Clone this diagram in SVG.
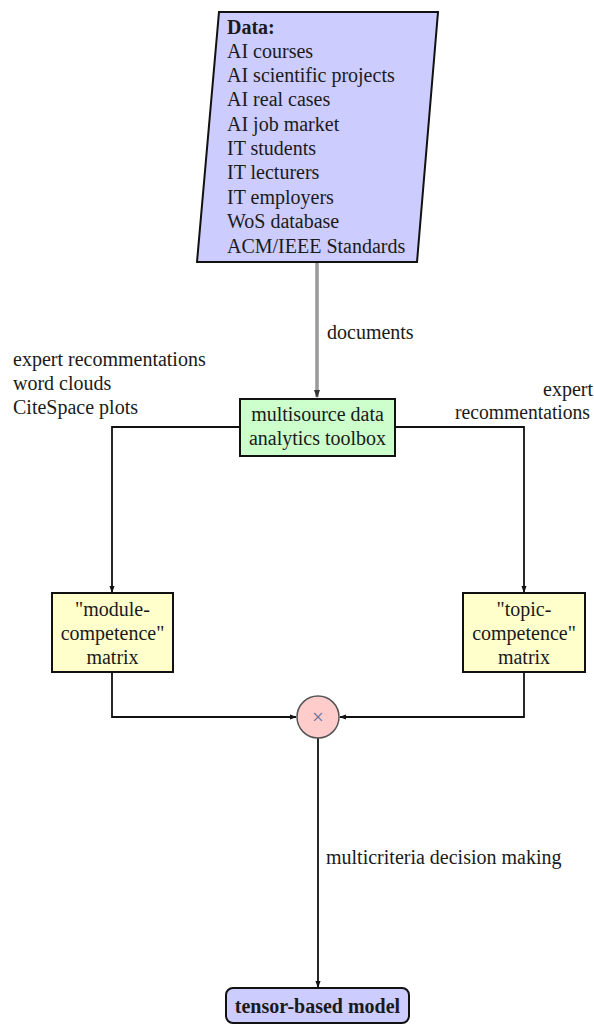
<svg xmlns="http://www.w3.org/2000/svg" width="594" height="1025" viewBox="0 0 594 1025">
<defs>
<style>
text{font-family:"Liberation Serif","Times New Roman",serif;font-size:20px;fill:#1a1a1a}
.b{font-weight:bold}
.c{text-anchor:middle}
.node{stroke:#111;stroke-width:2}
.edge{fill:none;stroke:#111;stroke-width:1.8}
.gray{fill:none;stroke:#999;stroke-width:3.5}
</style>
<marker id="ah" viewBox="0 0 8 8" refX="7" refY="4" markerWidth="7" markerHeight="7" markerUnits="userSpaceOnUse" orient="auto">
<path d="M0,1 L8,4 L0,7 Z" fill="#111"/>
</marker>
<marker id="ahg" viewBox="0 0 8 8" refX="7" refY="4" markerWidth="8" markerHeight="8" markerUnits="userSpaceOnUse" orient="auto">
<path d="M0,1 L8,4 L0,7 Z" fill="#333"/>
</marker>
</defs>
<rect width="594" height="1025" fill="#fff"/>

<g id="connectors">
<line class="gray" x1="317" y1="263" x2="317" y2="397" marker-end="url(#ahg)"/>
<polyline class="edge" points="240,427 112,427 112,592" marker-end="url(#ah)"/>
<polyline class="edge" points="395,427 524,427 524,592" marker-end="url(#ah)"/>
<polyline class="edge" points="112,672 112,717 296,717" marker-end="url(#ah)"/>
<polyline class="edge" points="524,672 524,717 340,717" marker-end="url(#ah)"/>
<line class="edge" x1="318" y1="738" x2="318" y2="987" marker-end="url(#ah)"/>
<text x="327" y="339">documents</text>
<text x="13" y="366">expert recommentations</text>
<text x="13" y="390">word clouds</text>
<text x="13" y="414">CiteSpace plots</text>
<text x="593" y="396" text-anchor="end">expert</text>
<text x="455" y="419" textLength="135" lengthAdjust="spacingAndGlyphs">recommentations</text>
<text x="326" y="864">multicriteria decision making</text>
</g>

<g id="data">
<polygon class="node" points="219,12 438,12 417,262 197,262" fill="#ccccff"/>
<text x="227" y="34" class="b">Data:</text>
<text x="227" y="58">AI courses</text>
<text x="227" y="82">AI scientific projects</text>
<text x="227" y="106">AI real cases</text>
<text x="227" y="131">AI job market</text>
<text x="227" y="155">IT students</text>
<text x="227" y="179">IT lecturers</text>
<text x="227" y="204">IT employers</text>
<text x="227" y="228">WoS database</text>
<text x="227" y="253">ACM/IEEE Standards</text>
</g>

<g id="toolbox">
<rect class="node" x="240" y="399" width="155" height="57" fill="#ccffcc"/>
<text x="317.5" y="421" class="c">multisource data</text>
<text x="317.5" y="445" class="c">analytics toolbox</text>
</g>

<g id="module">
<rect class="node" x="52" y="593" width="121" height="79" fill="#ffffcc"/>
<text x="112.5" y="616" class="c">"module-</text>
<text x="112.5" y="640" class="c">competence"</text>
<text x="112.5" y="664" class="c">matrix</text>
</g>

<g id="topic">
<rect class="node" x="463" y="593" width="122" height="79" fill="#ffffcc"/>
<text x="524" y="616" class="c">"topic-</text>
<text x="524" y="640" class="c">competence"</text>
<text x="524" y="664" class="c">matrix</text>
</g>

<g id="product">
<circle cx="318" cy="717" r="21" fill="#ffcccc" stroke="#555" stroke-width="1.5"/>
<text x="318" y="724" class="c" style="font-size:21px;fill:#5f6f95">×</text>
</g>

<g id="tensor">
<rect class="node" x="226" y="988" width="183" height="35" rx="7" fill="#ccccff"/>
<text x="317.5" y="1013" class="c b">tensor-based model</text>
</g>
</svg>
